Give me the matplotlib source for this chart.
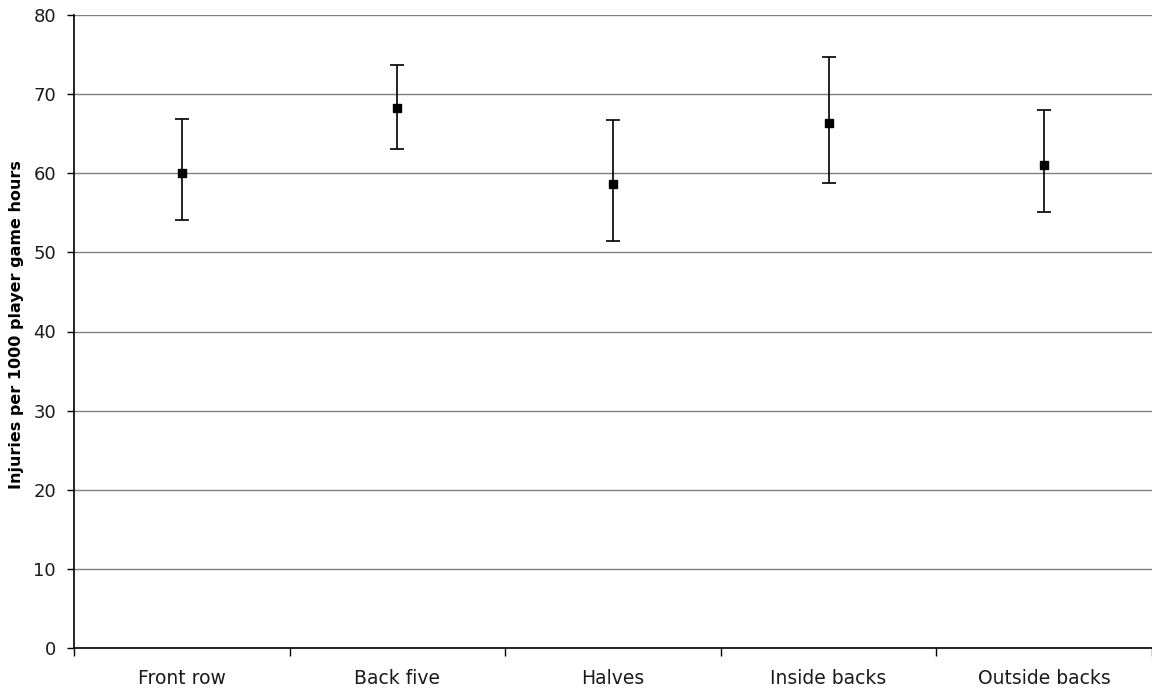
import numpy as np
import matplotlib.pyplot as plt

categories = ["Front row", "Back five", "Halves", "Inside backs", "Outside backs"]
rate = [60.0, 68.2, 58.6, 66.3, 61.1]
upper = [66.8, 73.7, 66.7, 74.7, 68.0]
lower = [54.1, 63.1, 51.5, 58.8, 55.1]

rate_arr = np.array(rate)
err = [rate_arr - np.array(lower), np.array(upper) - rate_arr]

fig = plt.figure(figsize=(11.52, 6.93), dpi=100)
ax = fig.add_axes([74 / 1152, 45 / 693, 1078 / 1152, 633 / 693])

x = np.arange(len(categories)) + 0.5
ax.errorbar(x, rate, yerr=err, fmt="s", color="black", markersize=6,
            ecolor="black", elinewidth=1.2, capsize=5, capthick=1.2, zorder=3)

ax.set_xlim(0, len(categories))
ax.set_ylim(0, 80)
ax.set_yticks(np.arange(0, 81, 10))
ax.yaxis.grid(True, color="#808080", linewidth=1)
ax.set_axisbelow(True)

ax.set_xticks(x)
ax.set_xticklabels(categories, fontsize=13.5, color="#1a1a1a")
ax.tick_params(axis="x", which="major", length=0, pad=15)
ax.set_xticks(np.arange(0, len(categories) + 1), minor=True)
ax.tick_params(axis="x", which="minor", length=6, width=1, color="black")
ax.tick_params(axis="y", length=5, width=1, labelsize=13, pad=8, labelcolor="#1a1a1a")

for s in ["top", "right"]:
    ax.spines[s].set_visible(False)
ax.spines["left"].set_linewidth(1.2)
ax.spines["bottom"].set_linewidth(1.2)

fig.text(17 / 1152, 1 - 324.5 / 693, "Injuries per 1000 player game hours",
         rotation=90, ha="center", va="center", fontsize=11.5, fontweight="bold")

fig.savefig("out.png", dpi=100)
